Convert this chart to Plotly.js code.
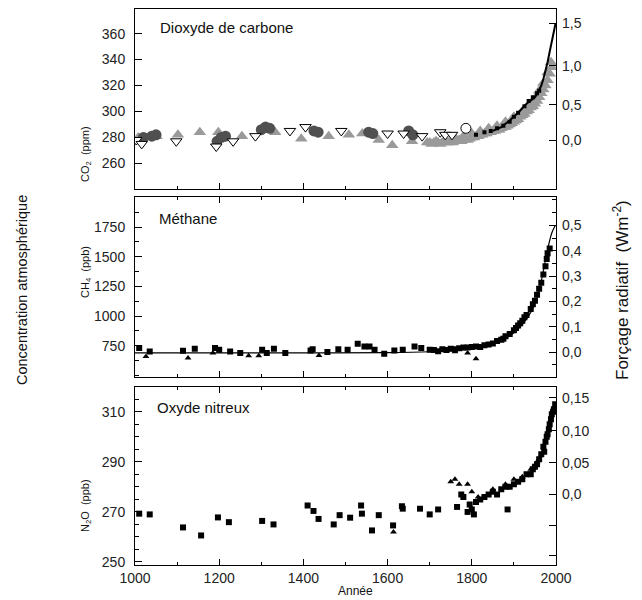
<!DOCTYPE html>
<html><head><meta charset="utf-8">
<script src="https://cdn.plot.ly/plotly-3.0.1.min.js"></script>
<style>body{margin:0;background:#fff}#c{width:642px;height:600px}</style>
</head><body><div id="c"></div>
<script>
// ---------- CO2 (ppm) ----------
const co2GrayYears = [1008,1051,1102,1154,1198,1254,1333,1395,1460,1508,1540,1579,1611,1658,1694,
  1700,1705,1710,1715,1720,1725,1730,1735,1740,1745,1750,1755,1760,1765,1770,1775,1780,1785,1790,1795,1800,
  1805,1810,1815,1820,1825,1830,1835,1840,1845,1850,1855,1860,1865,1870,1875,1880,1885,1890,1895,1900,
  1905,1910,1915,1920,1925,1930,1935,1940,1945,1950,1955,1960,1965,1970,1975,1980,1985,1990];
const co2GrayVals = [280,281,282,284,284,281,284,279,281,282,283,278,274,277,276,
  276,275,276,277,276,275,276,277,276,276,277,276,277,277,278,277,278,279,278,279,280,
  280,281,281,282,282,283,283,284,284,285,285,286,286,287,288,288,289,290,291,292,
  293,294,296,297,298,300,301,303,304,306,308,311,314,317,320,324,329,334];
const co2Gray2Years = [1760,1780,1800,1820,1840,1860,1880,1900,1920,1940,1950,1960,1970,1980,1988];
const co2Gray2Vals  = [280,281,283,285,287,289,292,296,300,306,310,316,322,330,338];
const co2CircYears = [1020,1040,1050,1195,1205,1215,1300,1310,1320,1425,1435,1555,1565,1650,1660];
const co2CircVals  = [280,281,282,277,280,281,286,288,287,285,284,284,283,285,282];
const co2InvTriYears = [1003,1016,1098,1193,1233,1286,1368,1405,1490,1600,1638,1682,1725,1737,1753];
const co2InvTriVals  = [278,275,277,273,277,281,285,288,285,283,283,281,284,282,282];
const co2OpenCircYears = [1786];
const co2OpenCircVals  = [287];
const co2BlackYears = [1810,1830,1845,1860,1875,1890,1900,1910,1925,1935,1945,1955,1960];
const co2BlackVals  = [282,284,285,287,289,292,296,299,304,308,311,314,316];
const co2LineYears = [1850,1870,1890,1910,1930,1950,1958,1965,1970,1975,1980,1985,1990,1995,1999];
const co2LineVals  = [285,288,293,299,306,311,315,320,325,331,338,346,354,361,368];
const co2TickLabels = [260,280,300,320,340,360];
const co2ForcingTicks = [0, 0.5, 1.0, 1.5];
const co2ForcingText  = ['0,0','0,5','1,0','1,5'];

// ---------- CH4 (ppb) ----------
const ch4SqYears = [1010,1035,1114,1142,1190,1200,1226,1250,1302,1313,1330,1357,1417,1422,1457,1483,1505,1529,1545,1557,1569,1592,1616,1636,1664,1680,1700,
  1710,1720,1730,1740,1750,1760,1770,1780,1790,1800,1810,1820,1830,1840,1850,1860,1870,1875,1880,1890,1900,1905,1910,1915,1920,1925,1930,1940,1945,1950,1955,1960,1965,1970,1975,1978,1980,1985];
const ch4SqVals = [731,702,708,725,731,716,702,689,716,689,725,689,711,722,697,722,716,767,744,744,716,683,711,716,744,731,716,
  715,705,720,715,725,720,730,735,735,740,745,740,755,760,770,790,800,810,830,850,880,900,920,940,960,990,1010,1060,1100,1130,1180,1230,1280,1350,1420,1480,1530,1570];
const ch4TriYears = [1026,1126,1185,1270,1294,1437,1760,1790,1810];
const ch4TriVals  = [660,647,689,666,666,669,700,690,640];
const ch4LineYears = [1000,1200,1400,1600,1700,1750,1800,1850,1875,1900,1920,1940,1950,1960,1970,1980,1990,1998];
const ch4LineVals  = [690,690,690,692,700,710,725,770,800,860,930,1030,1110,1220,1380,1560,1700,1760];
const ch4TickLabels = [750,1000,1250,1500,1750];
const ch4ForcingTicks = [0,0.1,0.2,0.3,0.4,0.5];
const ch4ForcingText  = ['0,0','0,1','0,2','0,3','0,4','0,5'];

// ---------- N2O (ppb) ----------
const n2oSqYears = [1010,1035,1114,1157,1197,1223,1302,1329,1410,1424,1436,1472,1486,1511,1537,1539,1563,1579,1613,1634,1636,1677,
  1700,1720,1765,1775,1780,1790,1795,1800,1805,1810,1820,1830,1840,1850,1860,1870,1880,1885,1890,1900,1910,1920,1930,1940,1945,1950,1955,1960,1965,1970,1972,1975,1978,1980,1983,1985,1988,1990,1993,1995,1998];
const n2oSqVals = [269.3,269,263.8,260.6,267.8,265.9,266.4,265,272.6,270.4,267.2,265,268.7,267.7,272.6,269.3,262.6,268.7,264.6,272.3,271.3,271.3,
  269,271,272,277,276,270,273,271,269,274,275,276,277,278,277,279,280,271,280,281,282,283,285,285,287,288,289,291,293,296,294,298,300,301,303,305,307,309,310,311,313];
const n2oTriYears = [1614,1750,1760,1770,1790,1800,1815,1850,1880,1900,1920,1940,1955];
const n2oTriVals  = [262,282,283,281,281,278,276,279,281,283,284,287,290];
const n2oTickLabels = [250,270,290,310];
const n2oForcingTicks = [-0.10,-0.05,0, 0.05, 0.10, 0.15];
const n2oForcingText  = ['','','0,0','0,05','0,10','0,15'];

// ---------- styling ----------
const FONT = 'Liberation Sans, Arial, sans-serif';
const tickFont = {family: FONT, size: 14, color: '#222'};
const GRAY = '#9a9a9a', DARK = '#505050';

const traces = [
  {x: co2GrayYears, y: co2GrayVals, xaxis:'x3', yaxis:'y3', mode:'markers', type:'scatter',
   marker:{symbol:'triangle-up', size:11, color:GRAY}},
  {x: co2Gray2Years, y: co2Gray2Vals, xaxis:'x3', yaxis:'y3', mode:'markers', type:'scatter',
   marker:{symbol:'triangle-up', size:11, color:GRAY}},
  {x: co2CircYears, y: co2CircVals, xaxis:'x3', yaxis:'y3', mode:'markers', type:'scatter',
   marker:{symbol:'circle', size:11, color:DARK}},
  {x: co2InvTriYears, y: co2InvTriVals, xaxis:'x3', yaxis:'y3', mode:'markers', type:'scatter',
   marker:{symbol:'triangle-down', size:10, color:'#fff', line:{color:'#000', width:1}}},
  {x: co2OpenCircYears, y: co2OpenCircVals, xaxis:'x3', yaxis:'y3', mode:'markers', type:'scatter',
   marker:{symbol:'circle', size:10, color:'#fff', line:{color:'#000', width:1}}},
  {x: co2BlackYears, y: co2BlackVals, xaxis:'x3', yaxis:'y3', mode:'markers', type:'scatter',
   marker:{symbol:'square', size:4, color:'#000'}},
  {x: co2LineYears, y: co2LineVals, xaxis:'x3', yaxis:'y3', mode:'lines', type:'scatter',
   line:{color:'#000', width:2}},
  {x:[1000], y:[null], xaxis:'x3', yaxis:'y4', mode:'markers', hoverinfo:'skip'},
  {x: ch4LineYears, y: ch4LineVals, xaxis:'x2', yaxis:'y2', mode:'lines', type:'scatter',
   line:{color:'#000', width:1.2, shape:'spline'}},
  {x: ch4SqYears, y: ch4SqVals, xaxis:'x2', yaxis:'y2', mode:'markers', type:'scatter',
   marker:{symbol:'square', size:6, color:'#000'}},
  {x: ch4TriYears, y: ch4TriVals, xaxis:'x2', yaxis:'y2', mode:'markers', type:'scatter',
   marker:{symbol:'triangle-up', size:6, color:'#000'}},
  {x:[1000], y:[null], xaxis:'x2', yaxis:'y5', mode:'markers', hoverinfo:'skip'},
  {x: n2oSqYears, y: n2oSqVals, xaxis:'x', yaxis:'y', mode:'markers', type:'scatter',
   marker:{symbol:'square', size:6, color:'#000'}},
  {x: n2oTriYears, y: n2oTriVals, xaxis:'x', yaxis:'y', mode:'markers', type:'scatter',
   marker:{symbol:'triangle-up', size:6, color:'#000'}},
  {x:[1000], y:[null], xaxis:'x', yaxis:'y6', mode:'markers', hoverinfo:'skip'}
];

const frameX = (anchor, showLabels) => ({
  anchor: anchor, domain:[0,1], range:[1000,2000], dtick:200, tick0:1000,
  ticks:'inside', ticklen:6, tickcolor:'#000', showline:true, linecolor:'#000', linewidth:1,
  mirror:'ticks', showgrid:false, zeroline:false, showticklabels: showLabels, tickfont: tickFont,
  minor:{dtick:100, ticks:'inside', ticklen:3, tickcolor:'#000'}
});
const leftY = (domain, range, vals, minor) => ({
  domain: domain, range: range, tickmode:'array', tickvals: vals, ticktext: vals.map(String),
  ticks:'inside', ticklen:7, tickcolor:'#000', ticklabelstandoff: 6,
  showline:true, linecolor:'#000', linewidth:1, mirror:true, showgrid:false, zeroline:false,
  tickfont: tickFont, minor: minor ? {dtick: minor, ticks:'inside', ticklen:4, tickcolor:'#000'} : undefined
});

const co2Range = [240, 379];
const ch4Range = [490, 2000];
const n2oRange = [248.8, 320];
const co2TickVals = co2ForcingTicks.map(f => 278*Math.exp(f/5.35));
const n2oTickVals = n2oForcingTicks.map(f => Math.pow(Math.sqrt(277) + f/0.134, 2));
const ch4Ref = [697, 1764];
const ch4RightRange = ch4Range.map(v => (v - ch4Ref[0]) / (ch4Ref[1]-ch4Ref[0]) * 0.5);

const px = v => (v - 135)/421;
const py = v => (565 - v)/556;

const rightAxis = (over, anchor, range, vals, text) => ({
  overlaying: over, side:'right', anchor: anchor, range: range, tickmode:'array',
  tickvals: vals, ticktext: text, ticks:'inside', ticklen:7, tickcolor:'#000', ticklabelstandoff: 5,
  showline:false, showgrid:false, zeroline:false, tickfont: tickFont
});

const titleFont = {family:FONT, size:11, color:'#111'};
const layout = {
  width: 642, height: 600, showlegend:false,
  paper_bgcolor:'#fff', plot_bgcolor:'#fff',
  margin:{l:135, r:86, t:9, b:35},
  font:{family: FONT, color:'#222'},
  xaxis: frameX('y', true),
  xaxis2: frameX('y2', false),
  xaxis3: Object.assign(frameX('y3', false), {mirror:true}),
  yaxis: leftY([0, 0.3207], n2oRange, n2oTickLabels, 5),
  yaxis2: leftY([0.3387, 0.6613], ch4Range, ch4TickLabels, 125),
  yaxis3: leftY([0.6757, 1], co2Range, co2TickLabels, null),
  yaxis4: rightAxis('y3','x3', co2Range, co2TickVals, co2ForcingText),
  yaxis5: Object.assign(rightAxis('y2','x2', ch4RightRange, ch4ForcingTicks, ch4ForcingText),
    {minor:{tickmode:'linear', dtick:0.05, tick0:0, ticks:'inside', ticklen:4, tickcolor:'#000'}}),
  yaxis6: rightAxis('y','x', n2oRange, n2oTickVals, n2oForcingText),
  annotations: [
    {text:'Dioxyde de carbone', xref:'paper', yref:'paper', x:px(158), y:py(27), xanchor:'left', yanchor:'middle', showarrow:false, font:{family:FONT, size:15, color:'#111'}},
    {text:'Méthane', xref:'paper', yref:'paper', x:px(157), y:py(218), xanchor:'left', yanchor:'middle', showarrow:false, font:{family:FONT, size:15, color:'#111'}},
    {text:'Oxyde nitreux', xref:'paper', yref:'paper', x:px(155), y:py(407), xanchor:'left', yanchor:'middle', showarrow:false, font:{family:FONT, size:15, color:'#111'}},
    {text:'CO<sub>2</sub>  (ppm)', xref:'paper', yref:'paper', x:px(86), y:py(154), textangle:-90, xanchor:'center', yanchor:'middle', showarrow:false, font:titleFont},
    {text:'CH<sub>4</sub>  (ppb)', xref:'paper', yref:'paper', x:px(86), y:py(272), textangle:-90, xanchor:'center', yanchor:'middle', showarrow:false, font:titleFont},
    {text:'N<sub>2</sub>O  (ppb)', xref:'paper', yref:'paper', x:px(86), y:py(506), textangle:-90, xanchor:'center', yanchor:'middle', showarrow:false, font:titleFont},
    {text:'Concentration atmosphérique', xref:'paper', yref:'paper', x:px(22), y:py(290), textangle:-90, xanchor:'center', yanchor:'middle', showarrow:false, font:{family:FONT, size:14.5, color:'#111'}},
    {text:'Forçage radiatif \u00a0(Wm<sup>-2</sup>)', xref:'paper', yref:'paper', x:px(621), y:py(290), textangle:-90, xanchor:'center', yanchor:'middle', showarrow:false, font:{family:FONT, size:17, color:'#111'}},
    {text:'Année', xref:'paper', yref:'paper', x:px(355), y:py(591), xanchor:'center', yanchor:'middle', showarrow:false, font:{family:FONT, size:12, color:'#111'}}
  ]
};

Plotly.newPlot('c', traces, layout, {staticPlot:true, displayModeBar:false});
</script>
</body></html>
